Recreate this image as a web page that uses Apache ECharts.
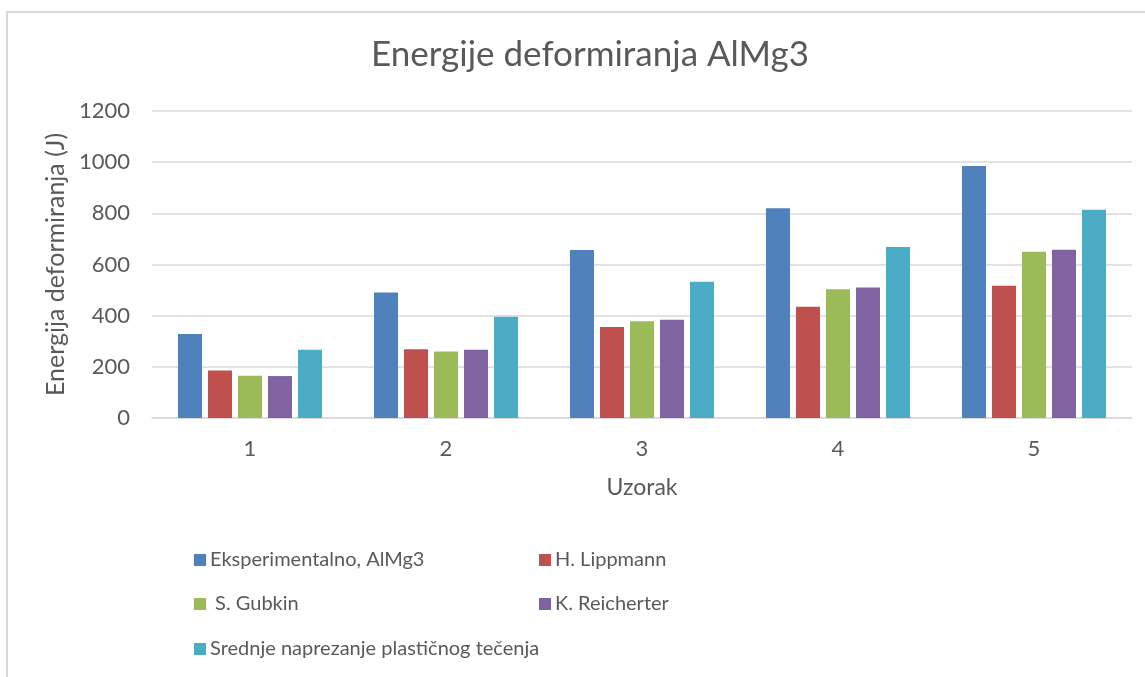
<!DOCTYPE html>
<html>
<head>
<meta charset="utf-8">
<script src="https://cdn.jsdelivr.net/npm/echarts@6/dist/echarts.min.js"></script>
<style>
  html, body { margin: 0; padding: 0; background: #fff; }
  #chart { width: 1145px; height: 677px; }
</style>
</head>
<body>
<div id="chart"></div>
<script>
var categories = ['1', '2', '3', '4', '5']
var seriesNames = ['Eksperimentalno, AlMg3', 'H. Lippmann', ' S. Gubkin', 'K. Reicherter', 'Srednje naprezanje plastičnog tečenja']
var eksperimentalno = [328, 491, 657, 820, 985]
var lippmann = [186, 269, 356, 435, 517]
var gubkin = [165, 260, 378, 503, 650]
var reicherter = [164, 267, 384, 510, 658]
var srednje = [267, 396, 533, 668, 814]
var colors = ['#4F81BD', '#C0504D', '#9BBB59', '#8064A2', '#4BACC6']

var font = 'Lato'
var textColor = '#595959'
var allData = [eksperimentalno, lippmann, gubkin, reicherter, srednje]

var chart = echarts.init(document.getElementById('chart'))

// legend spots, one legend per item so they sit like the Excel grid
var legendSpots = [[194, 560], [539, 560], [194, 604], [539, 604], [194, 649]]
var legends = seriesNames.map(function (name, i) {
    return {
        data: [name],
        left: legendSpots[i][0],
        top: legendSpots[i][1] - 12,
        padding: 0,
        icon: 'rect',
        itemWidth: 12,
        itemHeight: 12,
        itemGap: 0,
        selectedMode: false,
        textStyle: {
            color: textColor,
            fontFamily: font,
            fontSize: 20,
            lineHeight: 24,
            padding: [0, 0, 0, -1]
        }
    }
})

var option = {
    animation: false,
    color: colors,
    title: {
        text: 'Energije deformiranja AlMg3',
        left: 585,
        textAlign: 'center',
        top: 32,
        textStyle: {
            color: textColor,
            fontFamily: font,
            fontSize: 35,
            fontWeight: 'normal'
        }
    },
    legend: legends,
    grid: {
        left: 152,
        right: 13,
        top: 111,
        bottom: 677 - 418
    },
    xAxis: {
        type: 'category',
        data: categories,
        name: 'Uzorak',
        nameLocation: 'middle',
        nameGap: 58,
        nameTextStyle: {
            color: textColor,
            fontFamily: font,
            fontSize: 23
        },
        axisTick: { show: false },
        axisLine: { lineStyle: { color: '#d9d9d9', width: 1.5 } },
        axisLabel: {
            color: textColor,
            fontFamily: font,
            fontSize: 22,
            margin: 20
        }
    },
    yAxis: {
        type: 'value',
        min: 0,
        max: 1200,
        interval: 200,
        name: 'Energija deformiranja (J)',
        nameLocation: 'middle',
        nameGap: 81,
        nameTextStyle: {
            color: textColor,
            fontFamily: font,
            fontSize: 25
        },
        axisLine: { show: false },
        axisTick: { show: false },
        splitLine: { lineStyle: { color: '#d9d9d9', width: 1.5 } },
        axisLabel: {
            color: textColor,
            fontFamily: font,
            fontSize: 22,
            margin: 22,
            formatter: function (v) { return String(v) }
        }
    },
    graphic: [{
        type: 'rect',
        shape: { x: 7, y: 12, width: 1300, height: 800 },
        style: { fill: 'none', stroke: '#d9d9d9', lineWidth: 2 },
        silent: true,
        z: -1
    }],
    series: seriesNames.map(function (name, i) {
        return {
            name: name,
            type: 'bar',
            data: allData[i],
            barWidth: 24,
            barGap: '25%',
            itemStyle: { color: colors[i] }
        }
    })
}

chart.setOption(option)
</script>
</body>
</html>
